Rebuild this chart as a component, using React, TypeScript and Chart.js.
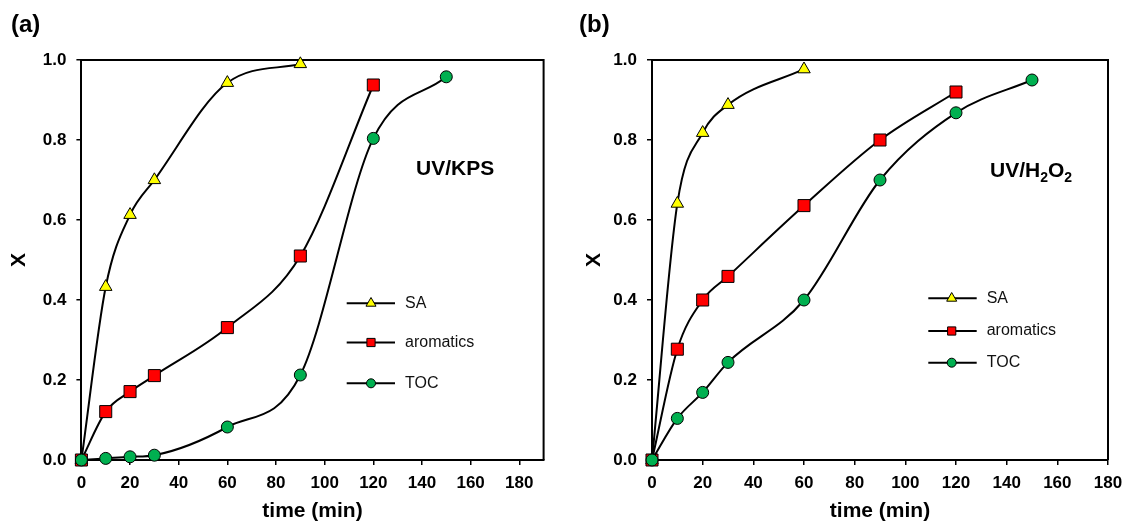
import React, { useEffect, useRef } from 'react';
import { Chart, registerables } from 'chart.js';

Chart.register(...registerables);

const FONT = '"Liberation Sans", Arial, Helvetica, sans-serif';
Chart.defaults.font.family = FONT;

// ---------- data: panel (a) UV/KPS ----------
const saTimeA = [0, 10, 20, 30, 60, 90];
const saValA = [0, 0.433, 0.613, 0.7, 0.943, 0.99];
const aroTimeA = [0, 10, 20, 30, 60, 90, 120];
const aroValA = [0, 0.121, 0.171, 0.211, 0.331, 0.51, 0.9375];
const tocTimeA = [0, 10, 20, 30, 60, 90, 120, 150];
const tocValA = [0, 0.004, 0.008, 0.012, 0.0825, 0.2125, 0.804, 0.958];

// ---------- data: panel (b) UV/H2O2 ----------
const saTimeB = [0, 10, 20, 30, 60];
const saValB = [0, 0.641, 0.818, 0.888, 0.977];
const aroTimeB = [0, 10, 20, 30, 60, 90, 120];
const aroValB = [0, 0.277, 0.4, 0.459, 0.636, 0.8, 0.92];
const tocTimeB = [0, 10, 20, 30, 60, 90, 120, 150];
const tocValB = [0, 0.104, 0.169, 0.244, 0.4, 0.7, 0.868, 0.95];

const seriesNames = ['SA', 'aromatics', 'TOC'];
const xTickValues = [0, 20, 40, 60, 80, 100, 120, 140, 160, 180];
const yTickValues = [0, 0.2, 0.4, 0.6, 0.8, 1.0];
const xTitle = 'time (min)';
const yTitle = 'X';

const YELLOW = '#FFFF00';
const RED = '#FF0000';
const GREEN = '#00B050';

const toPts = (t: number[], v: number[]) => t.map((x, i) => ({ x, y: v[i] }));

function drawMarker(ctx: CanvasRenderingContext2D, style: string, x: number, y: number, r: number, fill: string) {
  ctx.save();
  ctx.beginPath();
  if (style === 'triangle') {
    ctx.moveTo(x, y - r);
    ctx.lineTo(x + 0.866 * r, y + 0.5 * r);
    ctx.lineTo(x - 0.866 * r, y + 0.5 * r);
    ctx.closePath();
  } else if (style === 'rect') {
    const s = Math.SQRT1_2 * r;
    ctx.rect(x - s, y - s, 2 * s, 2 * s);
  } else {
    ctx.arc(x, y, r, 0, Math.PI * 2);
  }
  ctx.fillStyle = fill;
  ctx.fill();
  ctx.lineWidth = 1;
  ctx.strokeStyle = '#000';
  ctx.stroke();
  ctx.restore();
}

type PanelCfg = {
  letter: string;
  letterX: number;
  canvasWidth: number;
  yWidth: number;
  plotRight: number;
  xMax: number;
  yTitlePad: number;
  sa: { x: number; y: number }[];
  aro: { x: number; y: number }[];
  toc: { x: number; y: number }[];
  legend: { x1: number; x2: number; xm: number; xt: number; rows: number[] };
  drawLabel: (ctx: CanvasRenderingContext2D) => void;
};

function Panel({ cfg, left }: { cfg: PanelCfg; left: number }) {
  const ref = useRef<HTMLCanvasElement>(null);
  useEffect(() => {
    const canvas = ref.current!;
    const styles = ['triangle', 'rect', 'circle'];
    const fills = [YELLOW, RED, GREEN];
    const legendR = [5.8, 5.8, 4.5];

    const deco = {
      id: 'deco',
      beforeDatasetsDraw(chart: any) {
        const { ctx, chartArea: a } = chart;
        ctx.save();
        ctx.strokeStyle = '#000';
        ctx.lineWidth = 2;
        ctx.beginPath();
        ctx.moveTo(a.left, a.top);
        ctx.lineTo(a.right, a.top);
        ctx.lineTo(a.right, a.bottom);
        ctx.stroke();
        ctx.restore();
      },
      afterDraw(chart: any) {
        const ctx: CanvasRenderingContext2D = chart.ctx;
        ctx.save();
        ctx.fillStyle = '#000';
        ctx.textBaseline = 'alphabetic';
        ctx.textAlign = 'left';
        ctx.font = `bold 24px ${FONT}`;
        ctx.fillText(cfg.letter, cfg.letterX, 32);
        cfg.drawLabel(ctx);
        // legend
        const L = cfg.legend;
        for (let i = 0; i < 3; i++) {
          const y = L.rows[i];
          ctx.strokeStyle = '#000';
          ctx.lineWidth = 2;
          ctx.beginPath();
          ctx.moveTo(L.x1, y);
          ctx.lineTo(L.x2, y);
          ctx.stroke();
          drawMarker(ctx, styles[i], L.xm, y, legendR[i], fills[i]);
          ctx.fillStyle = '#111';
          ctx.font = `16px ${FONT}`;
          ctx.textBaseline = 'middle';
          ctx.fillText(seriesNames[i], L.xt, y);
        }
        ctx.restore();
      },
    };

    const common = {
      borderColor: '#000',
      borderWidth: 2,
      pointBorderColor: '#000',
      pointBorderWidth: 1,
      cubicInterpolationMode: 'monotone' as const,
      clip: false as any,
      showLine: true,
    };

    const chart = new Chart(canvas, {
      type: 'line',
      data: {
        datasets: [
          { ...common, label: seriesNames[0], data: cfg.sa, pointStyle: 'triangle', pointRadius: 7.2, pointBackgroundColor: YELLOW, order: 2 },
          { ...common, label: seriesNames[1], data: cfg.aro, pointStyle: 'rect', pointRadius: 8.5, pointBackgroundColor: RED, order: 1 },
          { ...common, label: seriesNames[2], data: cfg.toc, pointStyle: 'circle', pointRadius: 6, pointBackgroundColor: GREEN, order: 0 },
        ],
      },
      options: {
        animation: false,
        responsive: false,
        events: [],
        layout: { padding: { left: 0, top: 60, right: cfg.canvasWidth - cfg.plotRight, bottom: 0 } },
        plugins: { legend: { display: false }, tooltip: { enabled: false } },
        scales: {
          x: {
            type: 'linear',
            min: 0,
            max: cfg.xMax,
            ticks: { color: '#000', font: { size: 17, weight: 'bold' }, padding: 8.5, maxRotation: 0 },
            afterBuildTicks: (s: any) => {
              s.ticks = xTickValues.map((v) => ({ value: v }));
            },
            afterFit: (s: any) => {
              s.height = 62;
            },
            grid: { display: true, drawOnChartArea: false, drawTicks: true, tickLength: 5, color: '#000', lineWidth: 1.5 },
            border: { display: true, color: '#000', width: 2 },
            title: { display: true, text: xTitle, color: '#000', font: { size: 21, weight: 'bold', lineHeight: 1 }, padding: { top: 0, bottom: 0 } },
          },
          y: {
            type: 'linear',
            min: 0,
            max: 1,
            ticks: { color: '#000', font: { size: 17, weight: 'bold' }, padding: 10, callback: (v: any) => Number(v).toFixed(1) },
            afterBuildTicks: (s: any) => {
              s.ticks = yTickValues.map((v) => ({ value: v }));
            },
            afterFit: (s: any) => {
              s.width = cfg.yWidth;
            },
            grid: { display: true, drawOnChartArea: false, drawTicks: true, tickLength: 5, color: '#000', lineWidth: 1.5 },
            border: { display: true, color: '#000', width: 2 },
            title: { display: true, text: yTitle, color: '#000', font: { size: 21, weight: 'bold' }, padding: { top: cfg.yTitlePad, bottom: 0 } },
          },
        },
      } as any,
      plugins: [deco],
    });
    return () => chart.destroy();
  }, []);
  return (
    <div style={{ position: 'absolute', left, top: 0 }}>
      <canvas ref={ref} width={cfg.canvasWidth} height={522} style={{ display: 'block', width: cfg.canvasWidth, height: 522 }} />
    </div>
  );
}

const panelA: PanelCfg = {
  letter: '(a)',
  letterX: 11,
  canvasWidth: 561,
  yWidth: 81.4,
  plotRight: 543.6,
  xMax: 190,
  yTitlePad: 7,
  sa: toPts(saTimeA, saValA),
  aro: toPts(aroTimeA, aroValA),
  toc: toPts(tocTimeA, tocValA),
  legend: { x1: 346.7, x2: 395, xm: 371, xt: 405, rows: [303.3, 342.5, 383.3] },
  drawLabel: (ctx) => {
    ctx.font = `bold 21px ${FONT}`;
    ctx.textBaseline = 'alphabetic';
    ctx.fillStyle = '#000';
    ctx.fillText('UV/KPS', 416, 175);
  },
};

const panelB: PanelCfg = {
  letter: '(b)',
  letterX: 18,
  canvasWidth: 620,
  yWidth: 91,
  plotRight: 547,
  xMax: 180,
  yTitlePad: 20.4,
  sa: toPts(saTimeB, saValB),
  aro: toPts(aroTimeB, aroValB),
  toc: toPts(tocTimeB, tocValB),
  legend: { x1: 367.3, x2: 415.7, xm: 390.7, xt: 425.7, rows: [298.3, 331, 362.7] },
  drawLabel: (ctx) => {
    ctx.fillStyle = '#000';
    ctx.textBaseline = 'alphabetic';
    let x = 429;
    const parts: [string, boolean][] = [['UV/H', false], ['2', true], ['O', false], ['2', true]];
    for (const [t, sub] of parts) {
      ctx.font = sub ? `bold 14px ${FONT}` : `bold 21px ${FONT}`;
      ctx.fillText(t, x, sub ? 182 : 177);
      x += ctx.measureText(t).width;
    }
  },
};

export default function App() {
  return (
    <div style={{ position: 'absolute', left: 0, top: 0, width: 1122, height: 522, overflow: 'hidden', background: '#fff' }}>
      <Panel cfg={panelA} left={0} />
      <Panel cfg={panelB} left={561} />
    </div>
  );
}
